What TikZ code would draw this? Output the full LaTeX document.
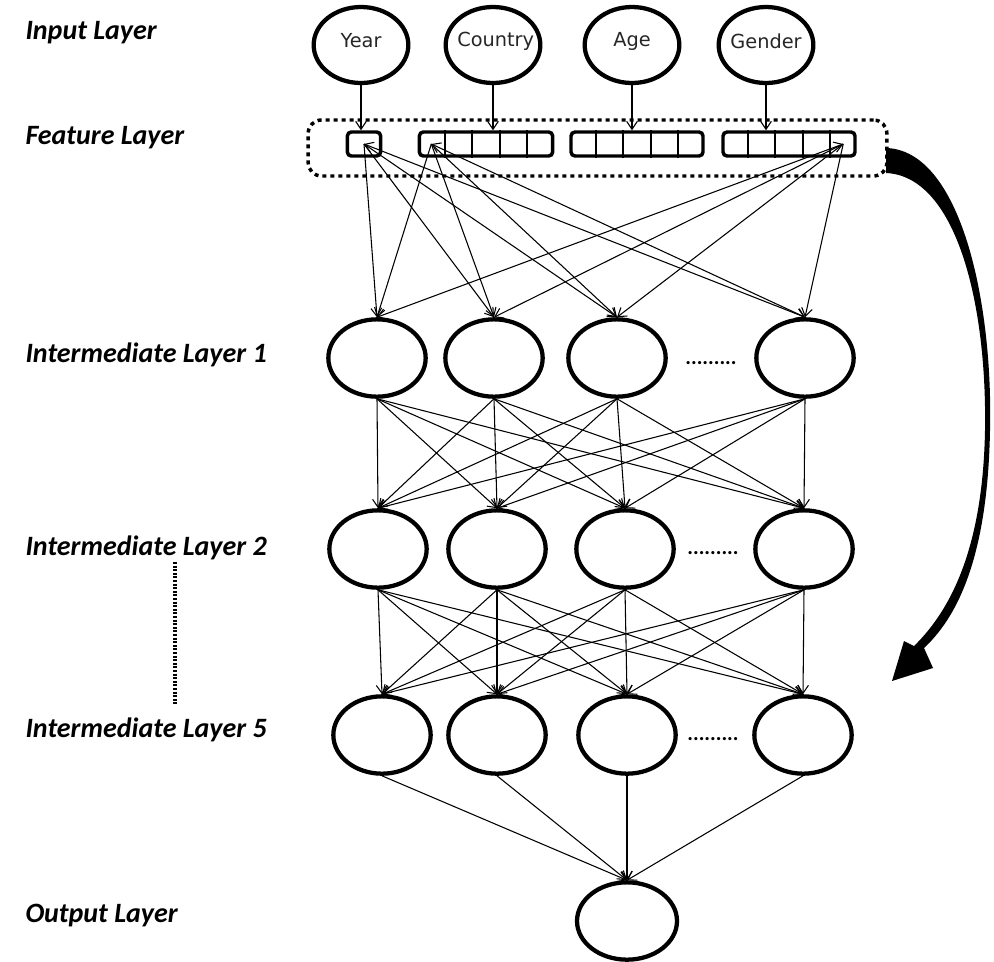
\documentclass[tikz,border=0pt]{standalone}
\usepackage{fontspec}
\setmainfont{Carlito}
\newfontfamily\circfont{DejaVu Sans}
\usetikzlibrary{arrows.meta,shapes.geometric,calc}

\tikzset{every picture/.style={line width=0.75pt}}
\tikzset{
  neuron/.style={draw,ellipse,line width=3.2pt,minimum width=73pt,minimum height=58pt,inner sep=0pt},
  innode/.style={neuron,minimum width=71pt,minimum height=57pt},
  featbox/.style={draw,rounded corners=3pt,line width=2.6pt,minimum height=18pt,inner sep=0pt},
  link/.style={line width=0.8pt,-{Straight Barb[length=6pt,width=8pt]}},
  duallink/.style={line width=0.8pt,{Straight Barb[length=6pt,width=8pt]}-{Straight Barb[length=6pt,width=8pt]}},
  layertext/.style={anchor=west,inner sep=0pt,font=\fontsize{21}{25}\selectfont\bfseries\itshape},
  intext/.style={inner sep=0pt,font=\circfont\fontsize{14.5}{17}\selectfont,text=black!85},
  moredots/.style={inner sep=0pt,anchor=base,font=\fontsize{16}{18}\selectfont\bfseries}
}

\begin{document}
\begin{tikzpicture}[x=0.75pt,y=0.75pt,yscale=-1,xscale=1]
\useasboundingbox (0,0) rectangle (994,961);

% Text Node
\node[layertext] (tinput) at (25,33) {Input Layer};
\node[layertext] (tfeat) at (25,138) {Feature Layer};
\node[layertext] (tl1) at (25,355) {Intermediate Layer 1};
\node[layertext] (tl2) at (25,548) {Intermediate Layer 2};
\node[layertext] (tl5) at (25,730) {Intermediate Layer 5};
\node[layertext] (tout) at (25,915) {Output Layer};
%Straight Lines (skipped layers)
\draw[line width=2.3pt,dash pattern={on 1.5pt off 1.2pt}] (175,562) -- (175,705);

%Shape: Circle (input)
\node[innode,label={[intext,yshift=3pt]center:Year}] (year) at (361,45) {};
\node[innode,label={[intext,yshift=3pt,xshift=2pt]center:Country}] (country) at (493,45) {};
\node[innode,label={[intext,yshift=3pt]center:Age}] (age) at (632,45) {};
\node[innode,label={[intext,yshift=3pt]center:Gender}] (gender) at (766,45) {};

%Shape: Rectangle (feature layer)
\node[draw,rounded corners=10pt,line width=2.6pt,dash pattern={on 3pt off 3pt},minimum width=434pt,minimum height=42pt] (featframe) at (597.5,148) {};
\node[featbox,minimum width=25pt] (ybox) at (364,144) {};
\node[featbox,minimum width=100pt] (cbox) at (486,144) {};
\node[featbox,minimum width=99pt] (abox) at (637,144) {};
\node[featbox,minimum width=99pt] (gbox) at (789,144) {};
\foreach \b in {cbox,abox,gbox}
  \foreach \i in {1,...,4}
    \draw[line width=1.5pt] ($(\b.north west)!\i/5!(\b.north east)$) -- ($(\b.south west)!\i/5!(\b.south east)$);
\coordinate (ysrc) at (ybox.center);
\coordinate (csrc) at ($(cbox.west)!0.1!(cbox.east)$);
\coordinate (gsrc) at ($(gbox.west)!0.9!(gbox.east)$);

%Straight Lines (input to feature)
\draw[link] (year.south) -- (year.south |- ybox.north);
\draw[link] (country.south) -- (country.south |- cbox.north);
\draw[link] (age.south) -- (age.south |- abox.north);
\draw[link] (gender.south) -- (gender.south |- gbox.north);

%Shape: Circle (intermediate layers)
\node[neuron] (la1) at (377,358) {};
\node[neuron] (la2) at (494,358) {};
\node[neuron] (la3) at (617,358) {};
\node[neuron] (la4) at (805,358) {};
\node[moredots] (dotsa) at (711,364) {.........};
\node[neuron] (lb1) at (378,549) {};
\node[neuron] (lb2) at (497,549) {};
\node[neuron] (lb3) at (625,549) {};
\node[neuron] (lb4) at (804,549) {};
\node[moredots] (dotsb) at (713,554) {.........};
\node[neuron] (lc1) at (382,735) {};
\node[neuron] (lc2) at (497,735) {};
\node[neuron] (lc3) at (627,735) {};
\node[neuron] (lc4) at (803,735) {};
\node[moredots] (dotsc) at (713,740) {.........};
\node[neuron,minimum width=75pt] (out) at (627,921) {};

%Straight Lines (feature to layer 1)
\foreach \j in {1,2,3}
  \draw[link] (ysrc) -- (la\j.north);
\draw[duallink] (ysrc) -- (la4.north);
\foreach \j in {1,2,3}
  \draw[link] (csrc) -- (la\j.north);
\draw[duallink] (csrc) -- (la4.north);
\draw[duallink] (gsrc) -- (la1.north);
\foreach \j in {2,3,4}
  \draw[link] (gsrc) -- (la\j.north);

%Straight Lines (layer to layer)
\foreach \i in {1,...,4}
  \foreach \j in {1,...,4} {
    \draw[link] (la\i.south) -- (lb\j.north);
    \draw[link] (lb\i.south) -- (lc\j.north);
  }
\foreach \i in {1,...,4}
  \draw[link] (lc\i.south) -- (out.north);

%Shape: Curved arrow (repeat)
\fill (886,148) .. controls (960,150) and (993,300) .. (990,430)
  .. controls (988,540) and (965,610) .. (924,648) -- (933,668) -- (892,681) -- (904,641) -- (914,646)
  .. controls (955,606) and (983,540) .. (985,430)
  .. controls (987,300) and (955,176) .. (886,173) -- cycle;

\end{tikzpicture}
\end{document}
